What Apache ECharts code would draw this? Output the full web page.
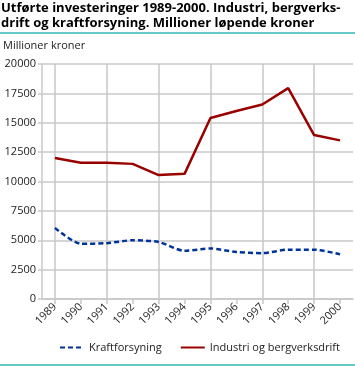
<!DOCTYPE html>
<html><head><meta charset="utf-8">
<script src="https://cdn.jsdelivr.net/npm/echarts@6/dist/echarts.min.js"></script>
<style>html,body{margin:0;padding:0;background:#fff}#c{width:355px;height:366px}</style>
</head><body><div id="c"></div>
<script>
var years = ['1989','1990','1991','1992','1993','1994','1995','1996','1997','1998','1999','2000'];
var kraftforsyning = [6050, 4700, 4750, 5000, 4850, 4100, 4300, 4000, 3900, 4200, 4200, 3800];
var industri = [12000, 11600, 11600, 11500, 10550, 10650, 15400, 16000, 16550, 17950, 13950, 13500];
var yTicks = [0, 2500, 5000, 7500, 10000, 12500, 15000, 17500, 20000];

var chart = echarts.init(document.getElementById('c'));
var font = 'Open Sans';
chart.setOption({
  animation: false,
  textStyle: {fontFamily: font},
  title: {
    text: 'Utførte investeringer 1989-2000. Industri, bergverks-\ndrift og kraftforsyning. Millioner løpende kroner',
    left: 1, top: 1, padding: 0,
    textStyle: {fontSize: 13, fontWeight: 'bold', color: '#000', lineHeight: 15, fontFamily: font}
  },
  graphic: [
    {type: 'rect', shape: {x: 0, y: 32, width: 355, height: 2}, style: {fill: '#66c7c7'}},
    {type: 'rect', shape: {x: 0, y: 364, width: 355, height: 2}, style: {fill: '#66c7c7'}},
    {type: 'text', left: 3, top: 40, style: {text: 'Millioner kroner', fontSize: 11, fill: '#222', fontFamily: font}}
  ],
  grid: {left: 42, right: 2, top: 64, bottom: 67, containLabel: false},
  legend: {
    bottom: 8, left: 54, itemWidth: 24, itemHeight: 10, itemGap: 18,
    itemStyle: {opacity: 0},
    textStyle: {fontSize: 11, color: '#222', fontFamily: font},
    data: ['Kraftforsyning', 'Industri og bergverksdrift']
  },
  xAxis: [{
    type: 'category', data: years, boundaryGap: true,
    axisLine: {show: true, lineStyle: {color: '#c8c8c8', width: 1.5}},
    axisTick: {show: true, alignWithLabel: true, length: 5, lineStyle: {color: '#c8c8c8', width: 1.5}},
    axisLabel: {rotate: 45, fontSize: 11, color: '#222', margin: 6, interval: 0},
    splitLine: {show: false}
  }, {
    type: 'category', data: years, boundaryGap: true, position: 'bottom',
    axisLine: {show: false},
    axisTick: {show: true, inside: true, alignWithLabel: true, length: 235, lineStyle: {color: '#c8c8c8', width: 1.5}},
    axisLabel: {show: false},
    splitLine: {show: false}
  }],
  yAxis: {
    type: 'value', min: yTicks[0], max: yTicks[yTicks.length - 1], interval: 2500,
    axisLine: {show: true, lineStyle: {color: '#c8c8c8', width: 1.5}},
    axisTick: {show: true, length: 4, lineStyle: {color: '#c8c8c8', width: 1.5}},
    axisLabel: {fontSize: 11, color: '#222', margin: 6, formatter: function (v) { return String(v); }},
    splitLine: {show: true, lineStyle: {color: '#c8c8c8', width: 1.5}}
  },
  series: [{
    name: 'Kraftforsyning', type: 'line', data: kraftforsyning, xAxisIndex: 0,
    symbol: 'none', smooth: 0.25,
    lineStyle: {color: '#003399', width: 2.5, type: [5, 3]},
    itemStyle: {color: '#003399'}
  }, {
    name: 'Industri og bergverksdrift', type: 'line', data: industri, xAxisIndex: 0,
    symbol: 'none',
    lineStyle: {color: '#990000', width: 2.5},
    itemStyle: {color: '#990000'}
  }]
});
</script></body></html>
